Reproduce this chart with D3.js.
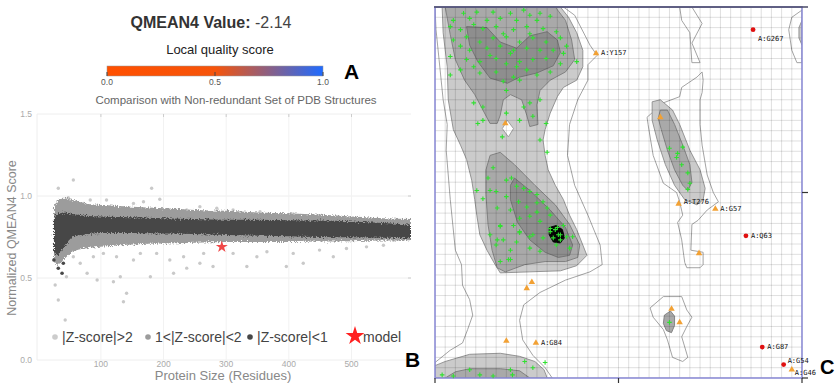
<!DOCTYPE html>
<html>
<head>
<meta charset="utf-8"/>
<script src="https://cdn.jsdelivr.net/npm/d3@7"></script>
<style>
body { margin: 0; background: #fff; }
svg { display: block; font-family: "Liberation Sans", Arial, sans-serif; }
</style>
</head>
<body>
<script>
// ---------- panel A : global score + colour bar ----------
var qmeanValue = "-2.14";
var cbStops = [0, 0.5, 1];
var cbColors = ["#ff5000", "#f6540a", "#1f6bff"];
var cbTicks = [0, 0.5, 1];

// ---------- panel B : comparison with PDB set ----------
var sizes  = [25, 30, 40, 55, 75, 100, 150, 200, 250, 300, 350, 400, 450, 500, 550, 595];
var darkHi = [0.86, 0.89, 0.90, 0.89, 0.88, 0.875, 0.87, 0.865, 0.86, 0.855, 0.855, 0.852, 0.85, 0.845, 0.835, 0.825];
var darkLo = [0.66, 0.64, 0.68, 0.75, 0.765, 0.775, 0.775, 0.772, 0.768, 0.762, 0.758, 0.755, 0.75, 0.748, 0.745, 0.742];
var medHi  = [0.93, 0.97, 0.99, 0.975, 0.955, 0.945, 0.935, 0.925, 0.915, 0.91, 0.90, 0.895, 0.885, 0.875, 0.865, 0.86];
var medLo  = [0.60, 0.58, 0.61, 0.66, 0.68, 0.69, 0.705, 0.71, 0.715, 0.72, 0.72, 0.72, 0.722, 0.724, 0.728, 0.73];
// scattered |Z|>2 structures [size, score]
var lightPts = [[56,1.098],[32,1.047],[48,0.99],[181,1.047],[45,0.508],[27,0.457],[32,0.366],[43,0.244],
  [141,0.407],[136,0.355],[94,0.488],[120,0.477],[131,0.508],[78,0.529],[179,0.508],[216,0.529],
  [258,0.59],[279,0.57],[237,0.56],[349,0.63],[333,0.57],[396,0.57],[423,0.59],[471,0.63],[524,0.69],
  [567,0.73],[109,0.976],[115,0.935],[194,0.98],[237,0.915],[311,0.915],[354,0.904],[407,0.89],
  [449,0.88],[487,0.86],[535,0.85],[72,0.955],[83,0.976],[152,0.955],[168,0.965],[258,0.935],
  [285,0.925],[56,0.63],[67,0.59],[88,0.63],[104,0.65],[125,0.63],[152,0.61],[163,0.65],[189,0.65],
  [210,0.61],[232,0.63],[264,0.65],[311,0.65],[365,0.66],[407,0.65],[449,0.67],[492,0.68],[551,0.70]];
var darkPts = [[25,0.61],[32,0.559],[38,0.529],[40,0.59]];
var modelPoint = [293, 0.69];
var legendLabels = ["|Z-score|>2", "1<|Z-score|<2", "|Z-score|<1", "model"];
var xTicksB = [100, 200, 300, 400, 500];
var yTicksB = [0, 0.5, 1, 1.5];

// ---------- panel C : Ramachandran plot, [phi, psi] ----------
var generous = [[-180,180],[-54,180],[-43,172],[-28,143],[-21,133],[-30,124],[-30,109],[-40,90],[-48,66],
  [-50,36],[-43,7],[-30,-22],[-18,-51],[-16,-70],[-28,-77],[-52,-85],[-77,-97],[-93,-109],[-97,-124],
  [-94,-143],[-84,-158],[-72,-170],[-65,-180],[-180,-180],[-180,-165],[-165,-153],[-153,-146],
  [-148,-133],[-143,-119],[-146,-104],[-153,-90],[-154,-70],[-160,-56],[-165,-7],[-169,41],[-168,66],
  [-172,90],[-176,129],[-179,158]];
var generousLA = [[28,73],[44,87],[60,93],[62,102],[77,112],[82,117],[83,109],[82,97],[80,90],[80,66],
  [82,46],[87,17],[93,0],[98,-9],[87,-17],[78,-27],[72,-31],[71,-56],[83,-58],[83,-70],[80,-73],
  [67,-73],[65,-68],[64,-61],[62,-46],[58,-29],[63,-22],[60,-9],[57,0],[44,9],[34,36],[29,66]];
var generousTop = [[60,180],[72,180],[82,164],[72,145],[80,126],[72,126],[70,155],[62,167]];
var generousIsland = [[31,-112],[44,-101],[62,-101],[67,-114],[72,-121],[67,-130],[62,-140],[68,-160],
  [63,-164],[53,-160],[48,-143],[44,-133],[34,-121]];
var generousEdge = [[180,177],[170,170],[167,158],[170,138],[175,126],[180,126]];
var allowedMain = [[-173,180],[-172,155],[-168,122],[-167,90],[-162,61],[-155,46],[-149,32],[-144,12],
  [-141,-7],[-139,-22],[-136,-41],[-129,-56],[-121,-70],[-116,-78],[-87,-77],[-57,-76],[-41,-71],
  [-31,-61],[-35,-51],[-41,-36],[-48,-22],[-54,-7],[-62,7],[-69,22],[-72,36],[-74,51],[-72,61],
  [-67,77],[-60,93],[-54,102],[-41,109],[-35,122],[-35,138],[-41,155],[-49,170],[-57,180]];
var allowedBottom = [[-180,-180],[-180,-168],[-170,-164],[-146,-157],[-116,-156],[-97,-159],[-82,-164],
  [-73,-172],[-70,-180]];
var allowedLA = [[33,88],[41,90],[53,80],[60,66],[70,41],[80,22],[85,4],[83,-7],[77,-12],[65,-7],
  [55,7],[46,27],[38,51],[33,70]];
var allowedEdge = [[180,167],[177,160],[177,150],[180,143]];
var holeBeta = [[-109,70],[-103,62],[-108,54],[-114,62]];
var favBeta = [[-170,180],[-62,180],[-52,167],[-46,148],[-43,129],[-52,117],[-67,109],[-77,99],
  [-80,85],[-79,66],[-87,64],[-90,75],[-95,90],[-106,95],[-113,90],[-116,75],[-119,67],[-126,67],
  [-133,80],[-141,95],[-151,109],[-160,129],[-165,153]];
var favAlpha = [[-126,36],[-116,39],[-102,27],[-82,7],[-62,-12],[-48,-31],[-38,-51],[-40,-63],
  [-52,-67],[-72,-67],[-92,-70],[-111,-77],[-119,-73],[-124,-56],[-128,-31],[-130,-2],[-130,22]];
var favBottom = [[-170,-180],[-160,-174],[-146,-171],[-116,-171],[-97,-173],[-87,-180]];
var favLA = [[41,80],[48,80],[55,66],[63,46],[70,27],[72,10],[68,2],[63,7],[55,22],[48,41],[42,61],[39,72]];
var favIsland = [[45,-119],[51,-115],[55,-120],[55,-129],[52,-136],[47,-134],[44,-127]];
var coreBeta = [[-149,161],[-129,160],[-116,146],[-100,140],[-87,152],[-70,156],[-60,148],[-57,136],
  [-64,123],[-80,116],[-97,112],[-109,106],[-126,111],[-138,127],[-146,143]];
var coreAlpha = [[-102,14],[-87,2],[-67,-17],[-52,-34],[-45,-51],[-48,-61],[-59,-63],[-72,-58],
  [-87,-46],[-99,-29],[-106,-7],[-106,7]];
var peakAlpha = [[-68,-34],[-61,-32],[-55,-36],[-53,-44],[-57,-49],[-64,-48],[-68,-41]];

var favoredRes = [[-152,174],[-139,175],[-123,175],[-106,174],[-93,177],[-87,172],[-77,174],[-67,171],
  [-162,167],[-146,169],[-129,167],[-116,169],[-100,167],[-80,167],[-165,161],[-155,158],[-142,163],
  [-133,159],[-120,161],[-103,158],[-90,161],[-74,159],[-61,156],[-113,154],[-87,154],[-162,148],
  [-149,151],[-136,146],[-123,150],[-110,151],[-97,146],[-84,150],[-71,146],[-57,150],[-51,142],
  [-54,135],[-155,142],[-146,138],[-129,140],[-116,142],[-103,138],[-90,140],[-77,138],[-64,138],
  [-106,135],[-126,133],[-165,132],[-149,129],[-136,127],[-120,130],[-110,125],[-97,127],[-84,129],
  [-71,130],[-57,125],[-41,127],[-142,122],[-100,122],[-155,119],[-136,116],[-120,117],[-103,112],
  [-90,119],[-80,114],[-67,117],[-113,108],[-97,109],[-110,99],[-142,87],[-133,83],[-87,87],[-77,90],
  [-93,83],[-110,77],[-133,70],[-84,74],[-71,67],[-97,70],[-138,67],[-165,114],[-114,54],[-77,51],
  [-70,39],
  [-123,24],[-128,14],[-110,12],[-105,14],[-100,6],[-93,4],[-87,1],[-80,-2],[-126,2],[-120,1],
  [-139,2],[-133,-6],[-110,-4],[-98,-9],[-90,-14],[-80,-10],[-74,-9],[-70,-15],[-80,-19],[-106,-17],
  [-119,-15],[-67,-22],[-87,-23],[-77,-28],[-103,-32],[-116,-32],[-97,-38],[-84,-41],[-74,-44],
  [-57,-41],[-51,-43],[-61,-51],[-113,-46],[-100,-48],[-126,-41],[-120,-51],[-106,-56],[-87,-54],
  [-77,-57],[-54,-32],[-67,-35],[-97,-25],[-62,-36],[-59,-41],[-64,-44],[-57,-46],[-67,-38],[-60,-34],
  [-116,-33],[-119,-46],[-106,-65],[-116,-67],[-97,-39],[-87,-43],[-45,-43],[-48,-54],
  [-173,-177],[-162,-178],[-146,-172],[-136,-177],[-123,-178],[-106,-172],[-104,-177],[-92,-164],
  [-84,-170],[-72,-165],[-108,-65],
  [50,43],[58,38],[63,44],[57,34],[62,27],[68,19],[70,9],[68,3],[50,-126]];
var allowedRes = [[-111,67],[41,73],[79,-59],[-85,-87],[-90,-93],[-110,-144],[52,-113],[60,-126]];
var allowedLabeled = [[-22,135,"A:Y157"],[59,-11,"A:T276"],[95,-16,"A:G57"],[-81,-146,"A:G84"],[170,-172,"A:G46"]];
var outliers = [[132,158,"A:G267"],[125,-42,"A:Q63"],[141,-150,"A:G87"],[162,-167,"A:G54"]];

var svg = d3.select("body").append("svg").attr("width", 836).attr("height", 383);
svg.append("rect").attr("width", 836).attr("height", 383).attr("fill", "#fff");
var defs = svg.append("defs");

// ================= A =================
var title = svg.append("text").attr("x", 211).attr("y", 28).attr("text-anchor", "middle")
  .attr("font-size", 16).attr("fill", "#333");
title.append("tspan").attr("font-weight", "bold").text("QMEAN4 Value: ");
title.append("tspan").attr("fill", "#444").text(qmeanValue);
svg.append("text").attr("x", 220).attr("y", 54).attr("text-anchor", "middle")
  .attr("font-size", 13).attr("fill", "#222").text("Local quality score");

var cb = d3.scaleLinear().domain([0, 1]).range([107, 323]);
var grad = defs.append("linearGradient").attr("id", "cbgrad");
cbStops.forEach(function(s, i) {
  grad.append("stop").attr("offset", s * 100 + "%").attr("stop-color", cbColors[i]);
});
svg.append("rect").attr("x", cb(0)).attr("y", 66).attr("width", cb(1) - cb(0)).attr("height", 10)
  .attr("fill", "url(#cbgrad)").attr("stroke", "#999").attr("stroke-width", 0.5);
svg.selectAll(".cbt").data(cbTicks).enter().append("line")
  .attr("x1", cb).attr("x2", cb).attr("y1", 72).attr("y2", 76).attr("stroke", "#444");
svg.selectAll(".cbl").data(cbTicks).enter().append("text")
  .attr("x", cb).attr("y", 85).attr("text-anchor", "middle").attr("font-size", 8.5).attr("fill", "#555")
  .text(function(d) { return d.toFixed(1); });
svg.append("text").attr("x", 344).attr("y", 79).attr("font-size", 21).attr("font-weight", "bold").text("A");

// ================= B =================
svg.append("text").attr("x", 236).attr("y", 104).attr("text-anchor", "middle")
  .attr("font-size", 11.5).attr("fill", "#666").text("Comparison with Non-redundant Set of PDB Structures");

var xB = d3.scaleLinear().domain([-2, 595]).range([37, 411]);
var yB = d3.scaleLinear().domain([0, 1.5]).range([360, 114]);

var gB = svg.append("g");
gB.selectAll(".gy").data(yTicksB).enter().append("line")
  .attr("x1", 37).attr("x2", 411).attr("y1", yB).attr("y2", yB).attr("stroke", "#eee");
gB.selectAll(".gx").data(xTicksB).enter().append("line")
  .attr("x1", xB).attr("x2", xB).attr("y1", 114).attr("y2", 360).attr("stroke", "#f2f2f2");
gB.append("line").attr("x1", 37).attr("x2", 37).attr("y1", 114).attr("y2", 360).attr("stroke", "#eee");

var clipB = defs.append("clipPath").attr("id", "clipB");
clipB.append("rect").attr("x", 37).attr("y", 114).attr("width", 374).attr("height", 246);

var rough = defs.append("filter").attr("id", "rough").attr("x", "-5%").attr("y", "-30%")
  .attr("width", "110%").attr("height", "160%");
rough.append("feTurbulence").attr("type", "fractalNoise").attr("baseFrequency", 0.7)
  .attr("numOctaves", 2).attr("seed", 4).attr("result", "n");
rough.append("feDisplacementMap").attr("in", "SourceGraphic").attr("in2", "n").attr("scale", 6)
  .attr("xChannelSelector", "R").attr("yChannelSelector", "G");

var data = gB.append("g").attr("clip-path", "url(#clipB)");
data.selectAll(".lp").data(lightPts).enter().append("circle")
  .attr("cx", function(d) { return xB(d[0]); }).attr("cy", function(d) { return yB(d[1]); })
  .attr("r", 1.7).attr("fill", "#c9c9c9");

var bandMed = d3.area().x(function(d, i) { return xB(sizes[i]); })
  .y0(function(d, i) { return yB(medLo[i]); }).y1(function(d, i) { return yB(medHi[i]); })
  .curve(d3.curveMonotoneX);
var bandDark = d3.area().x(function(d, i) { return xB(sizes[i]); })
  .y0(function(d, i) { return yB(darkLo[i]); }).y1(function(d, i) { return yB(darkHi[i]); })
  .curve(d3.curveMonotoneX);
data.append("path").datum(sizes).attr("d", bandMed).attr("fill", "#9c9c9c").attr("filter", "url(#rough)");
data.append("path").datum(sizes).attr("d", bandDark).attr("fill", "#474747").attr("filter", "url(#rough)");
data.selectAll(".dp").data(darkPts).enter().append("circle")
  .attr("cx", function(d) { return xB(d[0]); }).attr("cy", function(d) { return yB(d[1]); })
  .attr("r", 1.8).attr("fill", "#474747");

var star = d3.symbol().type(d3.symbolStar);
data.append("path").attr("d", star.size(45)())
  .attr("transform", "translate(" + xB(modelPoint[0]) + "," + yB(modelPoint[1]) + ")")
  .attr("fill", "#f04848");

gB.selectAll(".yl").data(yTicksB).enter().append("text")
  .attr("x", 32).attr("y", function(d) { return yB(d) + 3; }).attr("text-anchor", "end")
  .attr("font-size", 8.5).attr("fill", "#aaa").text(function(d) { return d.toFixed(1); });
gB.selectAll(".xl").data(xTicksB).enter().append("text")
  .attr("x", xB).attr("y", 367).attr("text-anchor", "middle")
  .attr("font-size", 8.5).attr("fill", "#aaa").text(function(d) { return d; });
gB.selectAll(".xt").data(xTicksB).enter().append("line")
  .attr("x1", xB).attr("x2", xB).attr("y1", 114).attr("y2", 117).attr("stroke", "#ccc");
gB.selectAll(".yt").data([0.5, 1]).enter().append("line")
  .attr("x1", 408).attr("x2", 411).attr("y1", yB).attr("y2", yB).attr("stroke", "#ccc");
gB.append("text").attr("transform", "translate(16,238) rotate(-90)").attr("text-anchor", "middle")
  .attr("font-size", 12.5).attr("fill", "#888").text("Normalized QMEAN4 Score");
gB.append("text").attr("x", 223).attr("y", 380).attr("text-anchor", "middle")
  .attr("font-size", 13).attr("fill", "#888").text("Protein Size (Residues)");

// legend
var legX = [55, 148, 250, 355];
var legCol = ["#cccccc", "#9c9c9c", "#474747", "#ff2020"];
legendLabels.forEach(function(lab, i) {
  if (i < 3) {
    gB.append("circle").attr("cx", legX[i]).attr("cy", 337).attr("r", 2.8).attr("fill", legCol[i]);
    gB.append("text").attr("x", legX[i] + 7).attr("y", 342).attr("font-size", 14).attr("fill", "#444").text(lab);
  } else {
    gB.append("path").attr("d", star.size(110)()).attr("transform", "translate(" + legX[i] + ",336)")
      .attr("fill", legCol[i]);
    gB.append("text").attr("x", legX[i] + 8).attr("y", 342).attr("font-size", 14).attr("fill", "#444").text(lab);
  }
});
svg.append("text").attr("x", 405).attr("y", 367).attr("font-size", 21).attr("font-weight", "bold").text("B");

// ================= C =================
var phi = d3.scaleLinear().domain([-180, 180]).range([435, 802]);
var psi = d3.scaleLinear().domain([180, -180]).range([7, 378]);
var poly = d3.line().x(function(d) { return phi(d[0]); }).y(function(d) { return psi(d[1]); })
  .curve(d3.curveLinearClosed);

var clipC = defs.append("clipPath").attr("id", "clipC");
clipC.append("rect").attr("x", 435).attr("y", 7).attr("width", 367).attr("height", 371);
var gC = svg.append("g").attr("clip-path", "url(#clipC)");

function region(pts, fill, stroke) {
  gC.append("path").attr("d", poly(pts)).attr("fill", fill).attr("stroke", stroke).attr("stroke-width", 0.9);
}
[generous, generousLA, generousTop, generousIsland, generousEdge].forEach(function(p) { region(p, "#fff", "#9a9a9a"); });
[allowedMain, allowedBottom, allowedLA, allowedEdge].forEach(function(p) { region(p, "#cbcbcb", "#8c8c8c"); });
region(holeBeta, "#fff", "#9a9a9a");
[favBeta, favAlpha, favBottom, favLA, favIsland].forEach(function(p) { region(p, "#a9a9a9", "#7c7c7c"); });
[coreBeta, coreAlpha].forEach(function(p) { region(p, "#8e8e8e", "#707070"); });
region(peakAlpha, "#050505", "#000");

// 10 degree grid
var grid = d3.range(-180, 181, 10);
gC.selectAll(".gv").data(grid).enter().append("line")
  .attr("x1", phi).attr("x2", phi).attr("y1", 7).attr("y2", 378)
  .attr("stroke", "rgba(0,0,0,0.16)").attr("stroke-width", 0.8);
gC.selectAll(".gh").data(grid).enter().append("line")
  .attr("x1", 435).attr("x2", 802).attr("y1", psi).attr("y2", psi)
  .attr("stroke", "rgba(0,0,0,0.16)").attr("stroke-width", 0.8);

// frame and ticks
svg.append("rect").attr("x", 435).attr("y", 7).attr("width", 367).attr("height", 371)
  .attr("fill", "none").attr("stroke", "#8e8ed6").attr("stroke-width", 1.6);
svg.append("line").attr("x1", 434).attr("x2", 808).attr("y1", 7).attr("y2", 7)
  .attr("stroke", "#4a4a66").attr("stroke-width", 1.6);
svg.selectAll(".bt").data([-180, 0, 180]).enter().append("line")
  .attr("x1", phi).attr("x2", phi).attr("y1", 378).attr("y2", 384).attr("stroke", "#333").attr("stroke-width", 1.2);
svg.selectAll(".rt").data([0, -180]).enter().append("line")
  .attr("x1", 802).attr("x2", 808).attr("y1", psi).attr("y2", psi).attr("stroke", "#333").attr("stroke-width", 1.2);

// residues
svg.append("g").selectAll("path").data(favoredRes).enter().append("path")
  .attr("d", "M-2.3,0H2.3M0,-2.3V2.3")
  .attr("transform", function(d) { return "translate(" + phi(d[0]) + "," + psi(d[1]) + ")"; })
  .attr("stroke", "#30e030").attr("stroke-width", 1.1);
var tri = d3.symbol().type(d3.symbolTriangle).size(18);
svg.append("g").selectAll("path").data(allowedRes.concat(allowedLabeled)).enter().append("path")
  .attr("d", tri())
  .attr("transform", function(d) { return "translate(" + phi(d[0]) + "," + psi(d[1]) + ")"; })
  .attr("fill", "#f2a134");
svg.append("g").selectAll("circle").data(outliers).enter().append("circle")
  .attr("cx", function(d) { return phi(d[0]); }).attr("cy", function(d) { return psi(d[1]); })
  .attr("r", 2.4).attr("fill", "#e01010");

var labOff = { "A:G267": [5, 9], "A:G54": [4, -4], "A:G46": [3, 3], "A:T276": [5, -2] };
svg.append("g").selectAll("text").data(allowedLabeled.concat(outliers)).enter().append("text")
  .attr("x", function(d) { return phi(d[0]) + (labOff[d[2]] ? labOff[d[2]][0] : 5); })
  .attr("y", function(d) { return psi(d[1]) + (labOff[d[2]] ? labOff[d[2]][1] : 0); })
  .attr("dominant-baseline", "middle")
  .attr("font-family", "DejaVu Sans Mono, monospace").attr("font-size", 7).attr("fill", "#111")
  .text(function(d) { return d[2]; });

svg.append("text").attr("x", 820).attr("y", 374).attr("font-size", 20).attr("font-weight", "bold").text("C");
</script>
</body>
</html>
